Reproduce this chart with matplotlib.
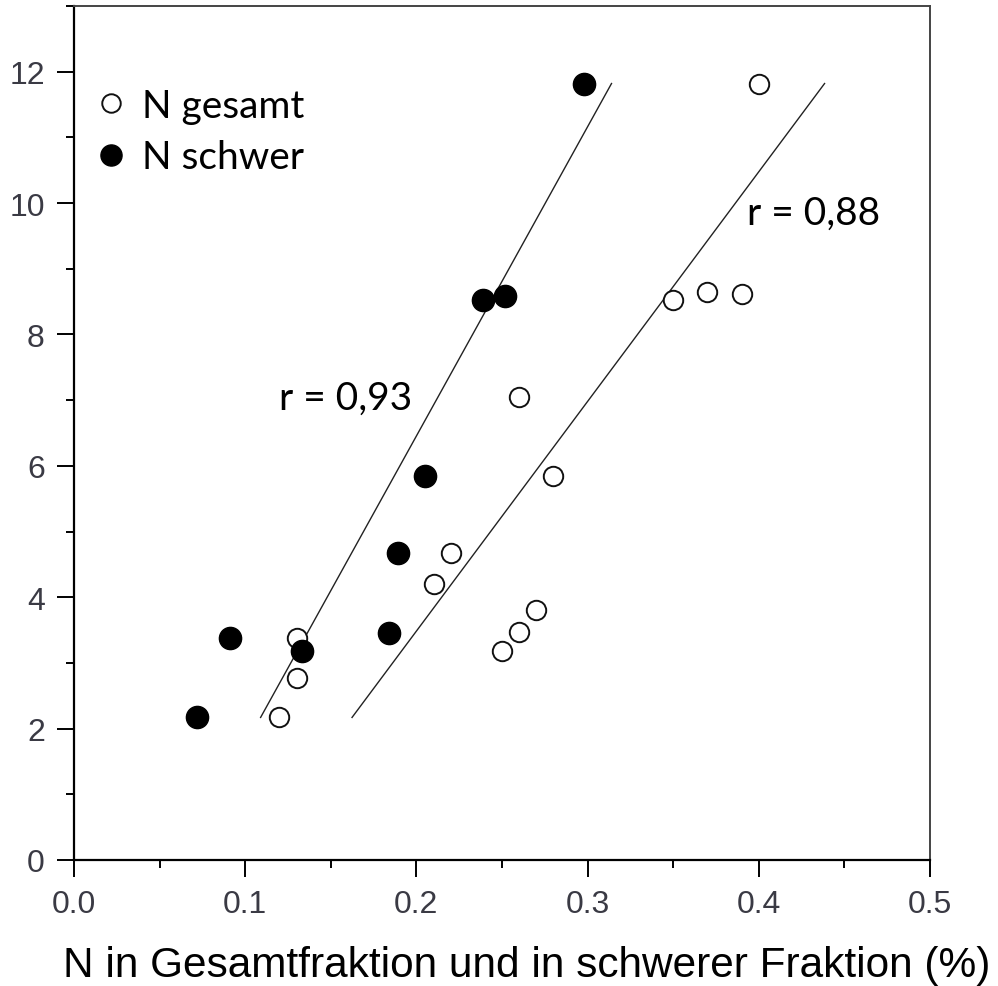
import numpy as np
import matplotlib
matplotlib.use('Agg')
import matplotlib.pyplot as plt
from matplotlib.ticker import MultipleLocator

# N gesamt (offene Kreise)
gesamt_x = [0.12, 0.13, 0.13, 0.21, 0.22, 0.25, 0.26, 0.27, 0.26, 0.28, 0.35, 0.37, 0.39, 0.40]
gesamt_y = [2.17, 2.77, 3.38, 4.20, 4.67, 3.18, 3.47, 3.80, 7.05, 5.85, 8.53, 8.65, 8.61, 11.82]

# N schwer (gefuellte Kreise)
schwer_x = [0.072, 0.091, 0.133, 0.184, 0.189, 0.205, 0.239, 0.252, 0.298]
schwer_y = [2.17, 3.38, 3.18, 3.45, 4.67, 5.85, 8.53, 8.59, 11.82]

r_labels = ['r = 0,93', 'r = 0,88']
x_ticks = [0.0, 0.1, 0.2, 0.3, 0.4, 0.5]
y_ticks = [0, 2, 4, 6, 8, 10, 12]

fig = plt.figure(figsize=(9.98, 9.87), dpi=100)
ax = fig.add_axes([74 / 998, 1 - 861 / 987, (930 - 74) / 998, (861 - 7) / 987])

# Regressionsgeraden (x auf y), gezeichnet ueber den y-Bereich der Daten
for xs, ys in [(schwer_x, schwer_y), (gesamt_x, gesamt_y)]:
    b, a = np.polyfit(ys, xs, 1)
    yy = np.array([min(ys), max(ys)])
    ax.plot(a + b * yy, yy, color='#222222', lw=1.0, zorder=2)

ax.plot(gesamt_x, gesamt_y, 'o', ms=14, mfc='white', mec='#111111', mew=1.4,
        ls='none', label='N gesamt', zorder=3)
ax.plot(schwer_x, schwer_y, 'o', ms=16, mfc='black', mec='black',
        ls='none', label='N schwer', zorder=4)

ax.set_xlim(0, 0.5)
ax.set_ylim(0, 13)
ax.set_xticks(x_ticks)
ax.set_xticklabels(['%.1f' % v for v in x_ticks])
ax.set_yticks(y_ticks)
ax.xaxis.set_minor_locator(MultipleLocator(0.05))
ax.yaxis.set_minor_locator(MultipleLocator(1))

ax.tick_params(which='major', direction='out', length=12, width=1.4,
               labelsize=23, labelcolor='#3a3a44', pad=9,
               labelfontfamily='Liberation Sans')
ax.tick_params(which='minor', direction='out', length=6, width=1.4)
for side in ['left', 'bottom']:
    ax.spines[side].set_linewidth(1.6)
for side in ['top', 'right']:
    ax.spines[side].set_linewidth(1.4)
    ax.spines[side].set_color('#444444')

ax.text(0.120, 7.03, r_labels[0], fontsize=28, family='Lato', va='center', ha='left')
ax.text(0.393, 9.86, r_labels[1], fontsize=28, family='Lato', va='center', ha='left')

leg = ax.legend(loc='upper left', bbox_to_anchor=(-0.02, 0.95), frameon=False,
                prop={'family': 'Lato', 'size': 28}, markerscale=0.95,
                handlelength=0.8, handletextpad=0.4, labelspacing=0.4,
                borderaxespad=0.6)

fig.text(527 / 998, 1 - 977 / 987, 'N in Gesamtfraktion und in schwerer Fraktion (%)',
         fontsize=30.5, family='Liberation Sans', ha='center', va='baseline')

fig.savefig('out.png', dpi=100)
